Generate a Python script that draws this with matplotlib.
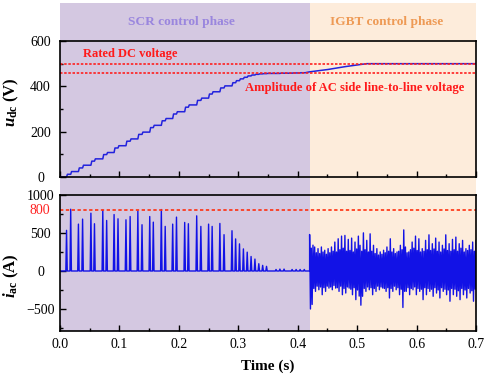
#%%
import numpy as np
import matplotlib.pyplot as plt
from matplotlib.patches import Rectangle
from matplotlib.transforms import blended_transform_factory

plt.rcParams['font.family'] = 'Liberation Serif'
plt.rcParams['mathtext.fontset'] = 'custom'
plt.rcParams['mathtext.it'] = 'Liberation Serif:italic:bold'
plt.rcParams['mathtext.rm'] = 'Liberation Serif:bold'
plt.rcParams['mathtext.bf'] = 'Liberation Serif:bold'

#%%
# data
scr_end = 0.42
t_end = 0.70
rated_dc = 500
ac_amplitude = 457
current_limit = 800

# SCR firing instants (s), current peaks (A) and dc voltage after each pulse (V)
pulse_t = [0.011, 0.018, 0.031, 0.038, 0.052, 0.058, 0.072, 0.0785, 0.091, 0.0976,
           0.111, 0.118, 0.131, 0.138, 0.151, 0.157, 0.1705, 0.177, 0.1896, 0.196,
           0.2098, 0.216, 0.230, 0.237, 0.250, 0.256, 0.269, 0.276, 0.2894, 0.2955,
           0.302, 0.3086, 0.315, 0.3215, 0.328, 0.3345, 0.341, 0.3475,
           0.3635, 0.370, 0.377, 0.3905, 0.3973, 0.404, 0.411]
pulse_i = [535, 813, 617, 683, 761, 622, 800, 665, 743, 687,
           674, 717, 791, 609, 717, 643, 809, 587, 617, 709,
           639, 622, 726, 587, 617, 587, 626, 478, 530, 422,
           357, 291, 248, 191, 157, 96, 74, 61,
           20, 25, 25, 20, 20, 20, 20]
udc_steps = [12, 24, 40, 52, 70, 80, 99, 108, 128, 138,
             158, 168, 188, 198, 218, 228, 248, 258, 278, 288,
             308, 318, 338, 348, 366, 376, 393, 402, 416, 425,
             433, 440, 446, 450, 453, 455, 456, 457,
             457, 458, 458, 459, 459, 460, 460]

# IGBT phase: dc voltage ramp to rated value
udc_ramp_t = [0.42, 0.45, 0.48, 0.516, 0.70]
udc_ramp_v = [464, 474, 487, 500, 500]

# IGBT phase current: upper / lower envelope of the ripple
iac_hi = [480, 300, 340, 316, 240, 294, 230, 316, 250, 273,
          220, 294, 240, 316, 260, 381, 250, 424, 280, 459,
          300, 468, 260, 416, 270, 433, 250, 381, 290, 459,
          338, 260, 502, 280, 403, 250, 489, 260, 338, 230,
          294, 210, 251, 220, 273, 240, 316, 260, 424, 250,
          294, 230, 251, 260, 338, 280, 541, 316, 240, 251,
          280, 381, 300, 459, 270, 424, 250, 294, 260, 403,
          280, 476, 270, 359, 290, 433, 260, 381, 250, 338,
          290, 476, 270, 359, 260, 416, 280, 446, 260, 359,
          300, 403, 250, 294, 270, 338, 280, 381, 260, 403]
iac_lo = [-500, -440, -230, -268, -200, -247, -210, -312, -220, -268,
          -200, -225, -210, -247, -190, -225, -220, -268, -200, -312,
          -230, -290, -210, -225, -240, -312, -220, -377, -250, -330,
          -450, -333, -230, -268, -210, -247, -220, -312, -230, -268,
          -200, -247, -210, -225, -230, -268, -220, -355, -230, -268,
          -200, -247, -220, -312, -240, -480, -268, -268, -220, -312,
          -230, -247, -210, -312, -230, -268, -240, -377, -220, -312,
          -230, -268, -240, -333, -220, -290, -250, -355, -220, -268,
          -240, -312, -250, -398, -230, -312, -240, -333, -260, -377,
          -230, -312, -250, -355, -230, -290, -260, -398, -240, -355]

#%%
# build traces
pw = 0.0012
t_i, i_i = [0.0], [0.0]
for tp, ip in zip(pulse_t, pulse_i):
    t_i += [tp - pw, tp, tp + pw]
    i_i += [0.0, ip, 0.0]
t_i.append(scr_end)
i_i.append(0.0)
tg = np.linspace(scr_end, t_end, len(iac_hi))
dt = (tg[1] - tg[0]) / 2
for k in range(len(iac_hi)):
    t_i += [tg[k], tg[k] + dt]
    i_i += [iac_hi[k], iac_lo[k]]

t_u, u_u = [0.0, pulse_t[0]], [0.0, 0.0]
prev = 0.0
for tp, up in zip(pulse_t, udc_steps):
    t_u += [tp, tp + 0.0015]
    u_u += [prev, up]
    prev = up
t_u += udc_ramp_t
u_u += udc_ramp_v

#%%
fig = plt.figure(figsize=(4.91, 3.80), dpi=100)
ax1 = fig.add_axes([0.1222, 0.5342, 0.8473, 0.3579])
ax2 = fig.add_axes([0.1222, 0.1289, 0.8473, 0.3579])

purple = '#D4C8E1'
orange = '#FDECDB'
trans = blended_transform_factory(ax2.transData, fig.transFigure)
fig.add_artist(Rectangle((0, 0.129), scr_end, 0.863, transform=trans,
                         facecolor=purple, lw=0, zorder=-1))
fig.add_artist(Rectangle((scr_end, 0.129), t_end - scr_end, 0.863, transform=trans,
                         facecolor=orange, lw=0, zorder=-1))
fig.text(0.204, 0.942, 'SCR control phase', transform=trans, ha='center', va='center',
         color='#9A86DE', fontsize=9.6, fontweight='bold')
fig.text(0.550, 0.942, 'IGBT control phase', transform=trans, ha='center', va='center',
         color='#EE9A55', fontsize=9.6, fontweight='bold')

for ax in (ax1, ax2):
    ax.set_facecolor('none')
    ax.set_xlim(0, t_end)
    ax.set_xticks(np.arange(0, 0.71, 0.1))
    ax.set_xticks(np.arange(0.05, 0.7, 0.1), minor=True)
    ax.tick_params(which='both', direction='in', top=False, right=False, width=1, labelsize=10)
    ax.tick_params(which='major', length=4)
    ax.tick_params(which='minor', length=2)
    ax.tick_params(axis='y', pad=14)
    for s in ax.spines.values():
        s.set_linewidth(1.2)

# upper: dc voltage
ax1.plot(t_u, u_u, color='#2222DD', lw=1.1)
ax1.axhline(rated_dc, color='#FF2020', lw=1.2, ls=(0, (1.5, 1)))
ax1.axhline(ac_amplitude, color='#FF2020', lw=1.2, ls=(0, (1.5, 1)))
ax1.set_ylim(0, 600)
ax1.set_yticks([0, 200, 400, 600])
ax1.set_yticks([100, 300, 500], minor=True)
ax1.tick_params(labelbottom=False)
ax1.text(0.039, 543, 'Rated DC voltage', color='#FF1A1A', fontsize=9,
         fontweight='bold', va='center')
ax1.text(0.311, 393, 'Amplitude of AC side line-to-line voltage', color='#FF1A1A',
         fontsize=9.1, fontweight='bold', va='center')
ax1.set_ylabel(r'$u_{\mathrm{dc}}$ (V)', fontsize=12, fontweight='bold')
ax1.yaxis.set_label_coords(-0.094, 0.55)

# lower: ac current
ax2.plot(t_i, i_i, color='#1212E6', lw=1.0)
ax2.axhline(current_limit, color='#FF3010', lw=1.2, ls=(0, (2, 1.5)))
ax2.set_ylim(-790, 1000)
ax2.set_yticks([-500, 0, 500, 1000])
ax2.set_yticks([-750, -250, 250, 750], minor=True)
ax2.text(-0.048, current_limit, '800', color='#FF2020', fontsize=10, ha='center', va='center',
         transform=blended_transform_factory(ax2.transAxes, ax2.transData))
ax2.set_ylabel(r'$i_{\mathrm{ac}}$ (A)', fontsize=12, fontweight='bold')
ax2.yaxis.set_label_coords(-0.094, 0.41)
ax2.set_xlabel('Time (s)', fontsize=11, fontweight='bold', labelpad=6)
ax2.tick_params(axis='x', pad=5)

for ax in (ax1, ax2):
    plt.setp(ax.get_yticklabels(), ha='center')

plt.savefig('out.png', dpi=100)
